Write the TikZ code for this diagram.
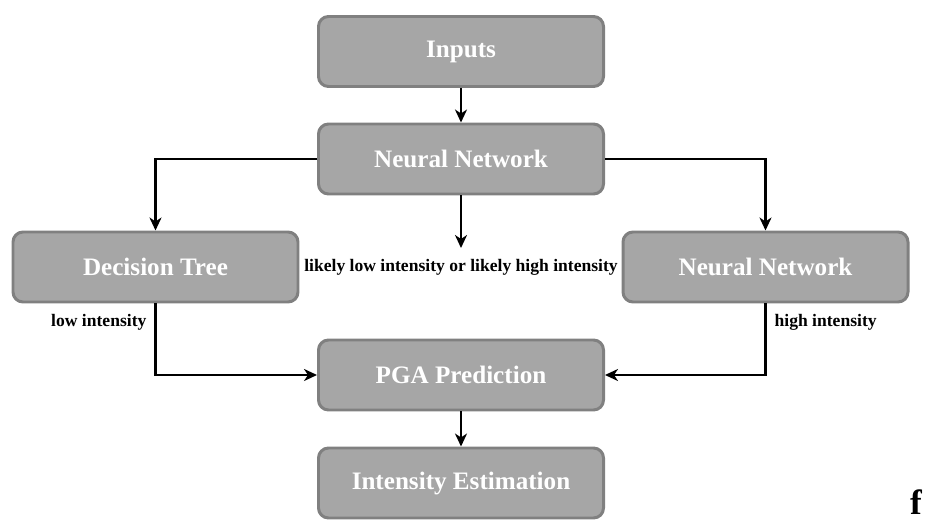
\documentclass[tikz,border=0pt]{standalone}
\usepackage{fontspec}
\setmainfont{Liberation Serif}
\usepackage{tikz}
\usetikzlibrary{arrows.meta}

\definecolor{boxfill}{RGB}{166,166,166}
\definecolor{boxline}{RGB}{128,128,128}

\begin{document}
\begin{tikzpicture}[
    block/.style={draw=boxline, fill=boxfill, line width=1.7pt, rounded corners=0.2cm,
      minimum width=5.7cm, minimum height=1.4cm, text=white,
      font=\fontsize{14.3}{17}\selectfont\bfseries},
    lbl/.style={font=\fontsize{10}{12}\selectfont\bfseries, inner sep=1pt},
    link/.style={->, >={Stealth[length=2.6mm,width=2.4mm,inset=0.8mm]}, line width=1.4pt}
  ]
      \def \xmid {9.22}
      \def \xleft {3.11}
      \def \xright {15.31}

      \useasboundingbox (0,0) rectangle (18.5,-10.42);

      % boxes
      \node[block] (inputs) at (\xmid,-1.03) {Inputs};
      \node[block] (nnmain) at (\xmid,-3.18) {Neural Network};
      \node[block] (dtree) at (\xleft,-5.34) {Decision Tree};
      \node[block] (nnhigh) at (\xright,-5.34) {Neural Network};
      \node[block] (pga) at (\xmid,-7.50) {PGA Prediction};
      \node[block] (estim) at (\xmid,-9.66) {Intensity Estimation};

      % labels
      \node[lbl] (likely) at (\xmid,-5.34) {likely low intensity or likely high intensity};
      \coordinate (likelytop) at (\xmid,-4.96);
      \node[lbl, anchor=north east] (lowlbl) at ([xshift=-0.14cm,yshift=-0.18cm]dtree.south) {low intensity};
      \node[lbl, anchor=north west] (highlbl) at ([xshift=0.14cm,yshift=-0.18cm]nnhigh.south) {high intensity};
      \node[font=\fontsize{20}{24}\selectfont\bfseries, anchor=base, inner sep=0pt] (flabel) at (18.32,-10.28) {f};

      % connectors
      \draw[link] (inputs) -- (nnmain);
      \draw[link] (nnmain.west) -| (dtree.north);
      \draw[link] (nnmain.east) -| (nnhigh.north);
      \draw[link] (nnmain.south) -- (likelytop);
      \draw[link] (dtree.south) |- (pga.west);
      \draw[link] (nnhigh.south) |- (pga.east);
      \draw[link] (pga) -- (estim);
    \end{tikzpicture}
\end{document}
